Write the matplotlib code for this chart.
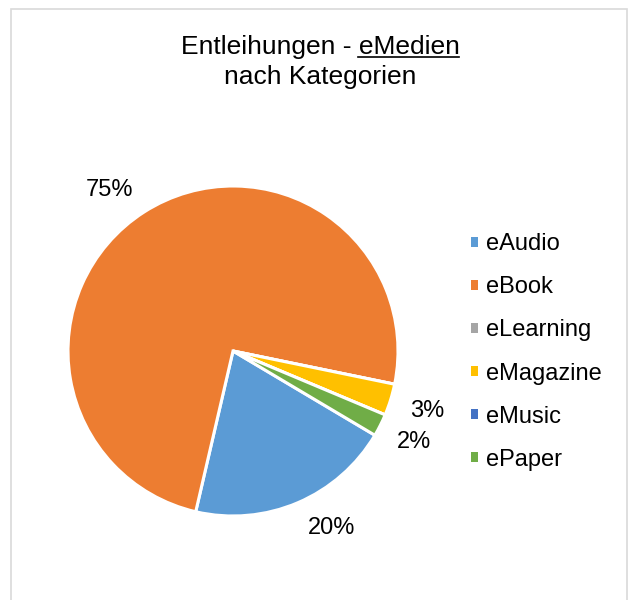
import numpy as np
import matplotlib
matplotlib.use("Agg")
import matplotlib.pyplot as plt
from matplotlib.patches import Rectangle
from matplotlib.lines import Line2D

# -----------------------------
# DATA
# -----------------------------
categories = ["eAudio", "eBook", "eLearning", "eMagazine", "eMusic", "ePaper"]
shares = [20.1, 74.6, 0.0, 3.1, 0.0, 2.2]
colors = ["#5B9BD5", "#ED7D31", "#A5A5A5", "#FFC000", "#4472C4", "#70AD47"]

title_1 = "Entleihungen - "
title_u = "eMedien"
title_2 = "nach Kategorien"

# label placement tweaks (deg off the slice middle), like Excel's best fit
label_nudge = [6, 5, 0, 0, 0, 0]

plt.rcParams["font.family"] = ["Liberation Sans", "DejaVu Sans"]

W, H = 629, 600
fig = plt.figure(figsize=(W / 100, H / 100), dpi=100)

# chart frame (grey border, open at the bottom)
fig.patches.append(Rectangle((11 / W, -0.02), 616 / W, 1.02 - 9 / H,
                             transform=fig.transFigure, fill=False,
                             edgecolor="#d9d9d9", linewidth=1.2))

# -----------------------------
# PIE
# -----------------------------
cx, cy, R = 233, 351, 165
ax = fig.add_axes([(cx - R) / W, (H - cy - R) / H, 2 * R / W, 2 * R / H])
wedges, _ = ax.pie(shares, colors=colors, startangle=-30.7, counterclock=False,
                   wedgeprops=dict(edgecolor="white", linewidth=2.2))
ax.set_xlim(-1, 1)
ax.set_ylim(-1, 1)
ax.axis("off")

# percentage labels outside the slices
for w, val, nd in zip(wedges, shares, label_nudge):
    if val <= 0:
        continue
    ang = np.deg2rad((w.theta1 + w.theta2) / 2 + nd)
    ax.text(1.23 * np.cos(ang), 1.23 * np.sin(ang), f"{val:.0f}%",
            ha="center", va="center", fontsize=17, color="black")

# -----------------------------
# LEGEND
# -----------------------------
handles = [Rectangle((0, 0), 1, 1, facecolor=c, edgecolor="none") for c in colors]
fig.legend(handles, categories, loc="center left",
           bbox_to_anchor=(471 / W, 1 - 352 / H), frameon=False,
           fontsize=17, handlelength=0.3, handleheight=0.3,
           handletextpad=0.35, labelspacing=0.89, borderpad=0,
           borderaxespad=0)

# -----------------------------
# TITLE (with underlined "eMedien")
# -----------------------------
t1 = fig.text(320 / W, 1 - 47 / H, title_1 + title_u, ha="center", va="center",
              fontsize=19)
fig.text(320 / W, 1 - 77 / H, title_2, ha="center", va="center", fontsize=19)

fig.canvas.draw()
r = fig.canvas.get_renderer()
bb = t1.get_window_extent(r)
tu = fig.text(bb.x1 / W, bb.y0 / H, title_u, ha="right", va="bottom",
              fontsize=19, alpha=0)
bu = tu.get_window_extent(r)
y_line = (bb.y0 + 2) / H
fig.add_artist(Line2D([bu.x0 / W, bu.x1 / W], [y_line, y_line],
                      transform=fig.transFigure, color="black", linewidth=1.2))

fig.savefig("out.png", dpi=100)
